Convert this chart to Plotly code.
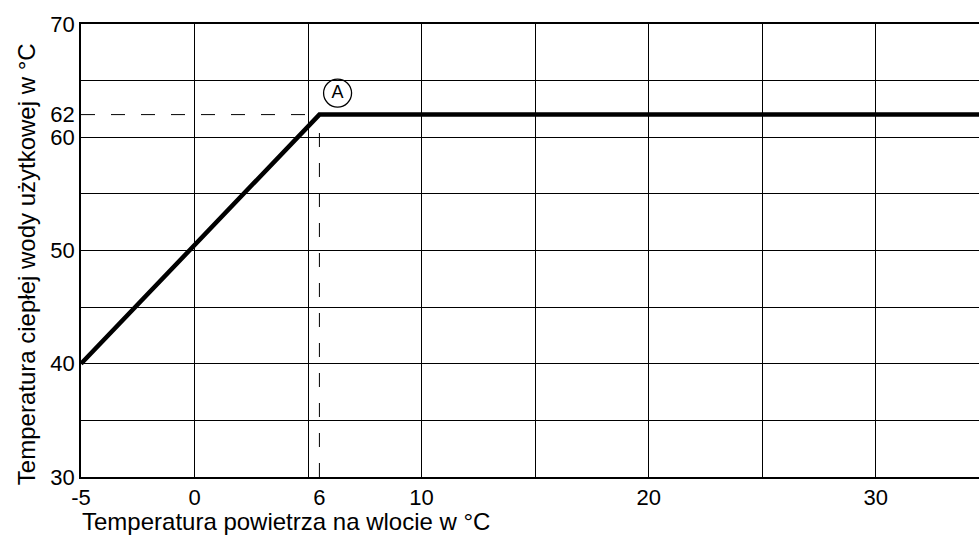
import plotly.graph_objects as go

# Data (x positions; break point labelled "6")
line_x = [-5, 5.5, 35]
line_y = [40, 62, 62]

ref_h_x = [-5, 5.5]
ref_h_y = [62, 62]
ref_v_x = [5.5, 5.5]
ref_v_y = [30, 62]

x_tickvals = [-5, 0, 5.5, 10, 20, 30]
x_ticktext = ["-5", "0", "6", "10", "20", "30"]
x_grid = [-5, 0, 5, 10, 15, 20, 25, 30, 35]

y_tickvals = [30, 40, 50, 60, 62, 70]
y_ticktext = ["30", "40", "50", "60", "62", "70"]
y_grid = [30, 35, 40, 45, 50, 55, 60, 65, 70]

marker_label = "A"
marker_pos = (6.3, 63.9)

FONT = "Liberation Sans, Arial, sans-serif"

fig = go.Figure()
fig.add_trace(go.Scatter(x=ref_h_x, y=ref_h_y, mode="lines",
                         line=dict(color="black", width=1, dash="14px,16px"),
                         hoverinfo="skip", showlegend=False))
fig.add_trace(go.Scatter(x=ref_v_x, y=ref_v_y, mode="lines",
                         line=dict(color="black", width=1, dash="14px,16px"),
                         hoverinfo="skip", showlegend=False))
fig.add_trace(go.Scatter(x=line_x, y=line_y, mode="lines",
                         line=dict(color="black", width=4.5),
                         showlegend=False))
fig.add_trace(go.Scatter(x=[marker_pos[0]], y=[marker_pos[1]], mode="markers+text",
                         marker=dict(symbol="circle-open", size=28, color="black",
                                     line=dict(width=1.3, color="black")),
                         text=[marker_label], textposition="middle center",
                         textfont=dict(family=FONT, size=18, color="black"),
                         cliponaxis=False, showlegend=False))

fig.update_layout(
    width=979, height=536,
    margin=dict(l=81, r=0, t=24, b=59),
    paper_bgcolor="white", plot_bgcolor="white",
    font=dict(family=FONT, size=22, color="black"),
    xaxis=dict(range=[-5, 34.55], tickvals=x_tickvals, ticktext=x_ticktext,
               showgrid=False, zeroline=False, showline=True, linecolor="black",
               linewidth=1.5, mirror=True, ticks="", tickfont=dict(size=22),
               minor=dict(tickvals=x_grid, showgrid=True, gridcolor="black",
                          gridwidth=1, ticks="")),
    yaxis=dict(range=[30, 70], tickvals=y_tickvals, ticktext=y_ticktext,
               showgrid=False, zeroline=False, showline=True, linecolor="black",
               linewidth=1.5, ticks="", tickfont=dict(size=22),
               minor=dict(tickvals=y_grid, showgrid=True, gridcolor="black",
                          gridwidth=1, ticks="")),
    annotations=[
        dict(text="Temperatura powietrza na wlocie w °C", xref="paper", yref="paper",
             x=0, y=-0.1305, xanchor="left", yanchor="bottom", showarrow=False,
             borderpad=0,
             font=dict(family=FONT, size=24, color="black")),
        dict(text="Temperatura ciepłej wody użytkowej w °C", xref="paper", yref="paper",
             x=-0.0612, y=0.470, xanchor="center", yanchor="middle", textangle=-90,
             showarrow=False, font=dict(family=FONT, size=24, color="black")),
    ],
)

fig.write_html(
    "out.html",
    config={"displayModeBar": False},
    post_script="document.body.style.margin='0';document.body.style.overflow='hidden';",
)
